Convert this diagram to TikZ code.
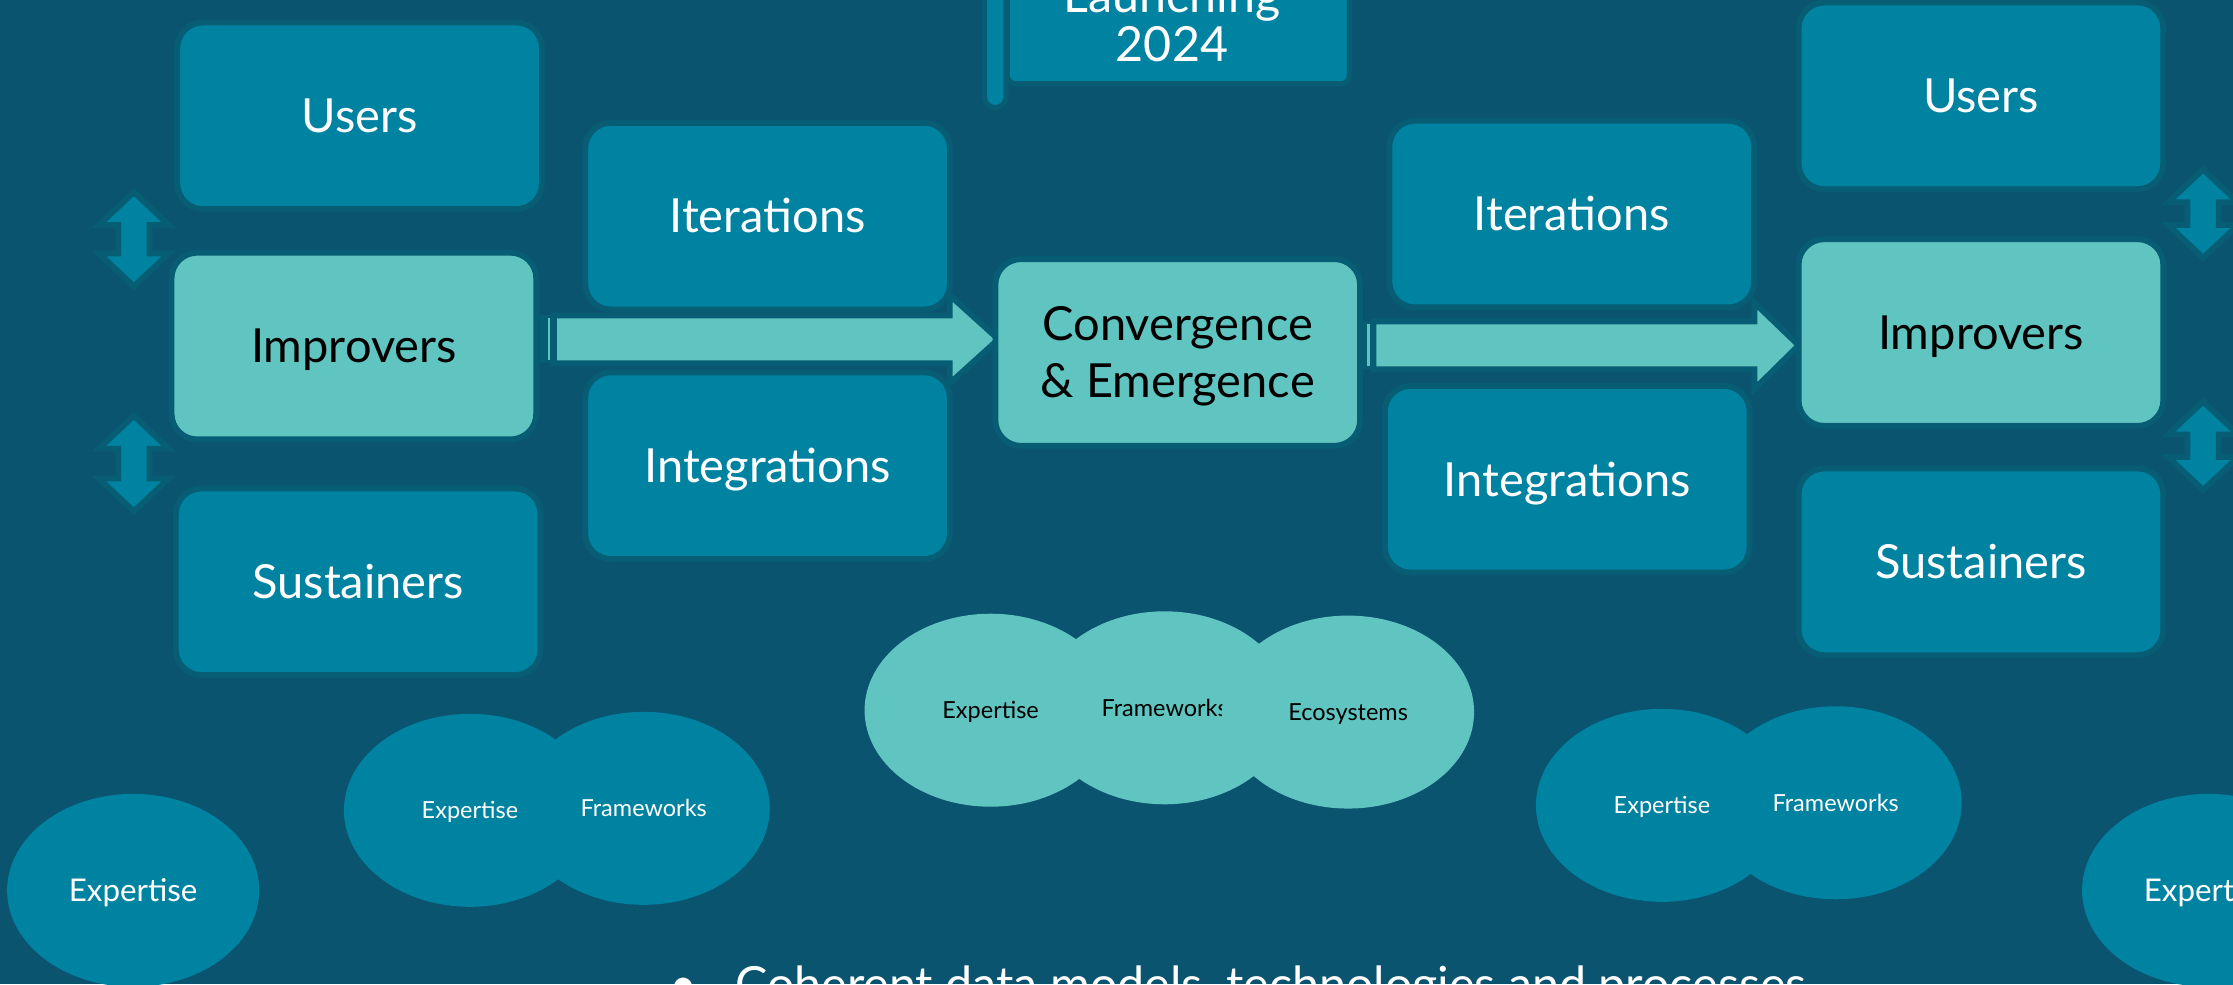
\documentclass[tikz,border=0pt]{standalone}
\usepackage{fontspec}
\setmainfont{Lato}
\usepackage{tikz}
\usetikzlibrary{shapes.geometric}
\definecolor{bg}{RGB}{11,84,112}
\definecolor{boxfill}{RGB}{0,130,161}
\definecolor{light}{RGB}{96,197,193}
\definecolor{rim}{RGB}{7,94,116}
\tikzset{
  darkbox/.style={draw=rim,line width=4,fill=boxfill,rounded corners=18,
    minimum width=256,minimum height=131,inner sep=0,text=white,
    font=\fontsize{33}{40}\selectfont,text height=23.6pt,text depth=0pt},
  lightbox/.style={darkbox,fill=light,text=black},
  blob/.style={ellipse,minimum width=177,minimum height=135.5,inner sep=0,
    font=\fontsize{16.5}{20}\selectfont,text height=11.8pt,text depth=0pt},
  darkblob/.style={blob,fill=boxfill,text=white},
  lightblob/.style={blob,fill=light,text=black},
  bigblob/.style={darkblob,font=\fontsize{22}{26}\selectfont,text height=15.8pt},
  bigarrow/.style={fill=light,draw=rim,line width=4},
  flagpart/.style={fill=boxfill,draw=rim,line width=3.5},
  pics/updown/.style={code={
    \draw[fill=boxfill,draw=rim,line width=4] (0,-#1) -- (24.5,23-#1) -- (11,23-#1)
      -- (11,#1-23) -- (24.5,#1-23) -- (0,#1) -- (-24.5,#1-23) -- (-11,#1-23)
      -- (-11,23-#1) -- (-24.5,23-#1) -- cycle;}}
}
\begin{document}
\begin{tikzpicture}[x=1pt,y=-1pt]
\useasboundingbox (0,0) rectangle (1568,691);
\clip (0,0) rectangle (1568,691);
\fill[bg] (0,0) rectangle (1568,691);

% flag on top
\draw[flagpart,rounded corners=7.5] (691.3,-20) rectangle (706.3,75.5);
\draw[flagpart,rounded corners=6] (707.3,-20) rectangle (947.5,58.8);
\node (title) at (823,43.3) [anchor=south,inner sep=0,align=center,text=white,
  font=\fontsize{34}{34}\selectfont] {Launching\\2024};

% big arrows
\fill[rim] (379,221.5) rectangle (391,255);
\fill[light] (384.6,223.5) rectangle (385.9,253);
\draw[bigarrow] (389,221.5) -- (667,221.5) -- (667,207.5) -- (701,238.2)
  -- (667,269) -- (667,255) -- (389,255) -- cycle;
\fill[rim] (955,225.7) rectangle (966,259.2);
\fill[light] (960.1,227.7) rectangle (962.2,257.2);
\draw[bigarrow] (964.5,225.7) -- (1232,225.7) -- (1232,212.7) -- (1263,242.5)
  -- (1232,273) -- (1232,259.2) -- (964.5,259.2) -- cycle;

% left column
\node (usersL) at (252.5,81.3) [darkbox] {Users};
\node (improversL) at (248.5,243) [lightbox] {Improvers};
\node (sustainersL) at (251.5,408.5) [darkbox] {Sustainers};
\pic at (94,168) {updown=33};
\pic at (94,325.5) {updown=33.5};

\node (iterL) at (539,151.8) [darkbox] {Iterations};
\node (integL) at (539,327) [darkbox] {Integrations};

\node (conv) at (827,247.5) [lightbox,align=center,text height=63.6pt] {Convergence\\\& Emergence};

\node (iterR) at (1103.7,150.3) [darkbox] {Iterations};
\node (integR) at (1100.5,336.5) [darkbox] {Integrations};

% right column
\node (usersR) at (1391,67.3) [darkbox] {Users};
\node (improversR) at (1391,233.5) [lightbox] {Improvers};
\node (sustainersR) at (1391,394.5) [darkbox] {Sustainers};
\pic at (1547,150) {updown=31};
\pic at (1547,313) {updown=31};

% ellipses
\node (expM) at (695.6,498.7) [lightblob] {Expertise};
\node (fwM) at (817.8,497) [lightblob] {Frameworks};
\node (ecoM) at (946.6,500) [lightblob] {Ecosystems};
\node (expL) at (330,569) [darkblob] {Expertise};
\node (fwL) at (452,567.6) [darkblob] {Frameworks};
\node (expR) at (1167,565.5) [darkblob] {Expertise};
\node (fwR) at (1289,563.7) [darkblob] {Frameworks};
\node (expA) at (93.5,625.2) [bigblob] {Expertise};
\node (expB) at (1550.5,625.2) [bigblob] {Expertise};

% bottom line
\node (bullet) at (479.7,703.3) [anchor=base,inner sep=0,text=white,
  font=\fontsize{34}{40}\selectfont] {\textbullet};
\node (coherent) at (516,703.3) [anchor=base west,inner sep=0,text=white,
  font=\fontsize{34}{40}\selectfont] {Coherent data models, technologies and processes};
\end{tikzpicture}
\end{document}
